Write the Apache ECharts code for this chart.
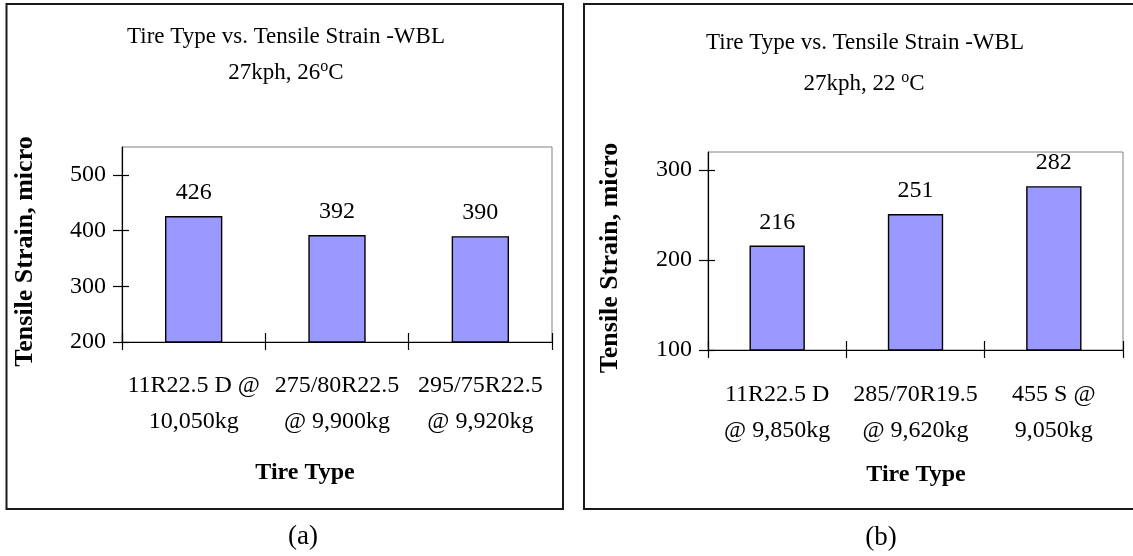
<!DOCTYPE html>
<html>
<head>
<meta charset="utf-8">
<script src="https://cdn.jsdelivr.net/npm/echarts@6/dist/echarts.min.js"></script>
<style>
html,body{margin:0;padding:0;background:#fff;}
#c{width:1133px;height:556px;}
</style>
</head>
<body>
<div id="c"></div>
<script>
// ---- data ----
const categoriesA = ['11R22.5 D @\n10,050kg', '275/80R22.5\n@ 9,900kg', '295/75R22.5\n@ 9,920kg'];
const strainA = [426, 392, 390];
const yTicksA = [200, 300, 400, 500];

const categoriesB = ['11R22.5 D\n@ 9,850kg', '285/70R19.5\n@ 9,620kg', '455 S @\n9,050kg'];
const strainB = [216, 251, 282];
const yTicksB = [100, 200, 300];

const titleA = ['Tire Type vs. Tensile Strain -WBL', '27kph, 26{sup|o}C'];
const titleB = ['Tire Type vs. Tensile Strain -WBL', '27kph, 22 {sup|o}C'];
const xName = 'Tire Type';
const yName = 'Tensile Strain, micro';

// ---- styles ----
const FF = '"Liberation Serif", "Times New Roman", serif';
const black = '#000';

function mainY(gridIndex, min, max, ticks, nameGap) {
  return {
    type: 'value', gridIndex, position: 'left', min, max,
    name: yName, nameLocation: 'middle', nameGap,
    nameTextStyle: { fontFamily: FF, fontWeight: 'bold', fontSize: 26, color: black, padding: [0, 14, 0, 0] },
    axisLine: { show: true, lineStyle: { color: black, width: 1.2 } },
    axisTick: { show: true, inside: false, length: 9, customValues: ticks, lineStyle: { color: black, width: 1.2 } },
    axisLabel: { show: true, customValues: ticks, margin: 16, fontFamily: FF, fontSize: 24, color: black },
    splitLine: { show: false }
  };
}
function innerY(gridIndex, min, max, ticks) {
  return {
    type: 'value', gridIndex, position: 'left', min, max,
    axisLine: { show: false },
    axisTick: { show: true, inside: true, length: 7, customValues: ticks, lineStyle: { color: black, width: 1.2 } },
    axisLabel: { show: false },
    splitLine: { show: false }
  };
}
function mainX(gridIndex, cats, margin) {
  return {
    type: 'category', gridIndex, data: cats, position: 'bottom',
    axisLine: { show: true, lineStyle: { color: black, width: 1.2 } },
    axisTick: { show: true, inside: false, length: 8, lineStyle: { color: black, width: 1.2 } },
    axisLabel: { show: true, margin, fontFamily: FF, fontSize: 24, lineHeight: 36, color: black, interval: 0 },
    splitLine: { show: false }
  };
}
function innerX(gridIndex, cats) {
  return {
    type: 'category', gridIndex, data: cats, position: 'bottom',
    axisLine: { show: false },
    axisTick: { show: true, inside: true, length: 9, lineStyle: { color: black, width: 1.2 } },
    axisLabel: { show: false },
    splitLine: { show: false }
  };
}
function barSeries(idx, values) {
  return {
    type: 'bar', xAxisIndex: idx * 2, yAxisIndex: idx * 2, data: values,
    barWidth: '40%',
    itemStyle: { color: '#9999FF', borderColor: black, borderWidth: 1.4 },
    label: { show: true, position: 'top', distance: 11, fontFamily: FF, fontSize: 24, color: black },
    silent: true
  };
}
function txt(text, x, y, size, bold, rich) {
  const st = { text, font: (bold ? 'bold ' : '') + size + 'px ' + FF, fill: black, textAlign: 'center', textVerticalAlign: 'middle' };
  if (rich) st.rich = rich;
  return { type: 'text', x, y, style: st, silent: true };
}
const supRich = { sup: { fontSize: 16, fontFamily: FF, color: black, padding: [0, 0, 13, 0] } };

const chart = echarts.init(document.getElementById('c'), null, { renderer: 'canvas' });
chart.setOption({
  backgroundColor: '#fff',
  animation: false,
  grid: [
    { left: 122, top: 147, width: 430, height: 195, show: true, borderColor: '#808080', borderWidth: 1, backgroundColor: '#fff' },
    { left: 708, top: 152, width: 415, height: 198, show: true, borderColor: '#808080', borderWidth: 1, backgroundColor: '#fff' }
  ],
  xAxis: [mainX(0, categoriesA, 26), innerX(0, categoriesA), mainX(1, categoriesB, 27), innerX(1, categoriesB)],
  yAxis: [mainY(0, 200, 550, yTicksA, 84), innerY(0, 200, 550, yTicksA), mainY(1, 100, 320, yTicksB, 85), innerY(1, 100, 320, yTicksB)],
  series: [barSeries(0, strainA), barSeries(1, strainB)],
  graphic: [
    { type: 'rect', shape: { x: 6.5, y: 4, width: 556.5, height: 505 }, style: { fill: null, stroke: '#1a1a1a', lineWidth: 2 }, silent: true, z: 100 },
    { type: 'rect', shape: { x: 584, y: 4, width: 600, height: 505 }, style: { fill: null, stroke: '#1a1a1a', lineWidth: 2 }, silent: true, z: 100 },
    txt(titleA[0], 286, 37, 23, false),
    txt(titleA[1], 286, 73, 23, false, supRich),
    txt(titleB[0], 865, 43, 23, false),
    txt(titleB[1], 864, 84, 23, false, supRich),
    txt(xName, 305, 473, 24, true),
    txt(xName, 916, 475, 24, true),
    txt('(a)', 303, 537, 27, false),
    txt('(b)', 881, 538, 27, false)
  ]
});
</script>
</body>
</html>
